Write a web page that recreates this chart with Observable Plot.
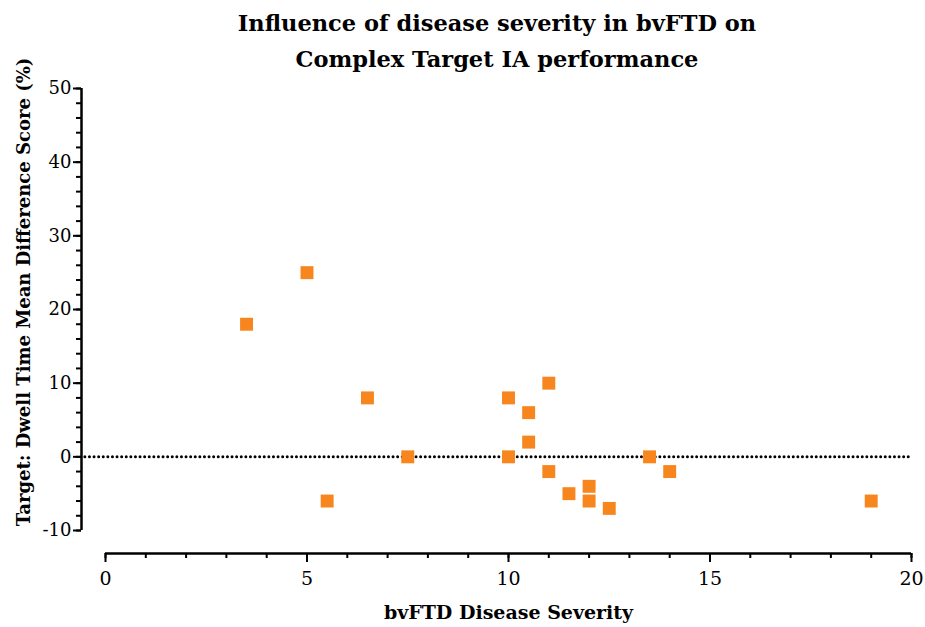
<!DOCTYPE html>
<html>
<head>
<meta charset="utf-8">
<script src="https://cdn.jsdelivr.net/npm/d3@7"></script>
<script src="https://cdn.jsdelivr.net/npm/@observablehq/plot@0.6"></script>
<style>
  body { margin: 0; background: #fff; }
  #wrap { width: 925px; }
  #title { font-family: "DejaVu Serif", serif; font-weight: bold; font-size: 22.5px; line-height: 36px;
           text-align: center; padding-left: 69px; height: 78px; box-sizing: border-box; padding-top: 5px; color: #000; }
  svg { display: block; overflow: visible; }
</style>
</head>
<body>
<div id="wrap">
  <div id="title">Influence of disease severity in bvFTD on<br>Complex Target IA performance</div>
</div>
<script>
const severity = [3.5, 5, 5.5, 6.5, 7.5, 10, 10, 11, 10.5, 10.5, 11, 11.5, 12, 12, 12.5, 13.5, 14, 19];
const dwellDiff = [18, 25, -6, 8, 0, 8, 0, 10, 6, 2, -2, -5, -4, -6, -7, 0, -2, -6];
const xMajor = [0, 5, 10, 15, 20];
const xMinor = d3.range(0, 21, 1);
const yMajor = [-10, 0, 10, 20, 30, 40, 50];
const yMinor = d3.range(-10, 51, 2);
const xTitle = "bvFTD Disease Severity";
const yTitle = "Target: Dwell Time Mean Difference Score (%)";

const data = severity.map((x, i) => ({x, y: dwellDiff[i]}));
const font = "DejaVu Serif";

const chart = Plot.plot({
  width: 925,
  height: 549,
  marginLeft: 81,
  marginRight: 14,
  marginTop: 10,
  marginBottom: 74,
  style: {fontFamily: font, color: "#000", background: "transparent", overflow: "visible"},
  x: {domain: [0, 20], range: [105, 911], label: null},
  y: {domain: [-10, 50], range: [452, 10], label: null},
  marks: [
    Plot.ruleY([0], {x1: -0.5, x2: 20, stroke: "#000", strokeWidth: 3, strokeDasharray: "0,4.6", strokeLinecap: "round"}),
    Plot.ruleX([0], {y1: -10, y2: 50, dx: -24, stroke: "#000", strokeWidth: 2.5}),
    Plot.ruleY([-10], {x1: 0, x2: 20, dy: 23, stroke: "#000", strokeWidth: 2.5}),
    Plot.axisY({ticks: yMinor, tickSize: 5, tickFormat: () => "", strokeWidth: 2, label: null}),
    Plot.axisY({ticks: yMajor, tickSize: 8, tickPadding: 2, strokeWidth: 2, fontSize: 18, label: null, tickFormat: d => String(d)}),
    Plot.axisX({ticks: xMinor, tickSize: 5, tickFormat: () => "", strokeWidth: 2, label: null}),
    Plot.axisX({ticks: xMajor, tickSize: 9, tickPadding: 9, strokeWidth: 2, fontSize: 19, label: null}),
    Plot.dot(data, {x: "x", y: "y", symbol: "square", r: 7.3, fill: "#f7861e", stroke: "none"}),
    Plot.text([yTitle], {frameAnchor: "left", textAnchor: "middle", lineAnchor: "middle", rotate: -90, dx: -57, dy: -29, fontSize: 18, fontWeight: "bold", fill: "#000"}),
    Plot.text([xTitle], {frameAnchor: "bottom", lineAnchor: "middle", dx: 12, dy: 59, fontSize: 19, fontWeight: "bold", fill: "#000"})
  ]
});
document.getElementById("wrap").appendChild(chart);
</script>
</body>
</html>
